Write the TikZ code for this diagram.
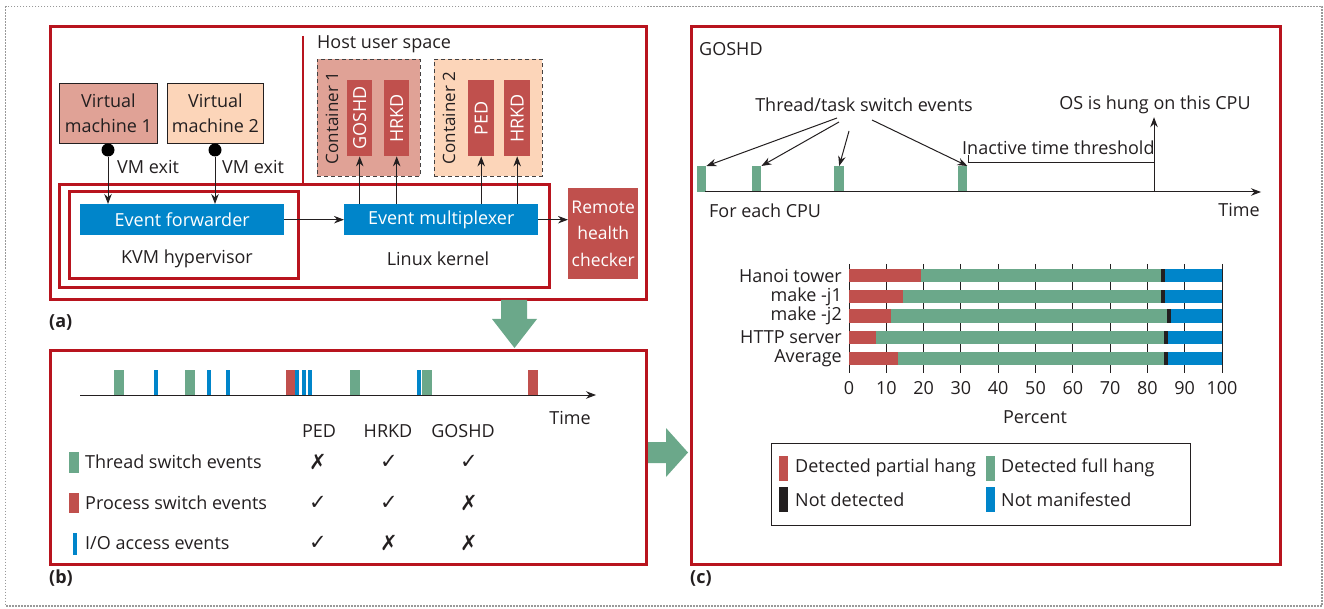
\documentclass[tikz,border=0pt]{standalone}
\usepackage{fontspec}
\setmainfont{Open Sans}
\newfontfamily\symfont{DejaVu Sans}
\usetikzlibrary{arrows.meta}
\definecolor{boxred}{HTML}{B8141E}
\definecolor{evgreen}{HTML}{6BA88A}
\definecolor{evblue}{HTML}{0085CA}
\definecolor{fillred}{HTML}{C0504D}
\definecolor{salmon}{HTML}{E0A296}
\definecolor{peach}{HTML}{FCD5B9}
\definecolor{txtc}{HTML}{231F20}
\begin{document}
\begin{tikzpicture}[x=1pt,y=-1pt,
  every node/.style={text=txtc, inner sep=0pt, font=\fontsize{18}{21}\selectfont},
  redframe/.style={draw=boxred, line width=2.6pt, anchor=north west},
  evbox/.style={fill=evblue, text=white, anchor=north west},
  rbox/.style={fill=fillred, text=white, anchor=north west},
  vmbox/.style={draw=txtc, line width=0.9pt, anchor=north west, align=center, font=\fontsize{18}{25}\selectfont},
  contbox/.style={draw=txtc!85, line width=0.9pt, dash pattern=on 4pt off 3pt, anchor=north west},
  arr/.style={draw=txtc, line width=1pt, -{Stealth[length=10pt,width=7.5pt]}},
  plainline/.style={draw=txtc, line width=1pt},
  chk/.style={font=\symfont\fontsize{21}{22}\selectfont},
  dotnode/.style={circle, fill=black, minimum size=13pt},
  evg/.style={fill=evgreen, anchor=north west},
  lbl/.style={anchor=west},
  plbl/.style={anchor=west, font=\bfseries\fontsize{18}{21}\selectfont}
]
\useasboundingbox (0,0) rectangle (1324,609);
% outer dotted border
\draw[gray!80, line width=1.2pt, dash pattern=on 1.5pt off 1.5pt] (5.5,6.5) rectangle (1322,606);

% ================= Panel (a)
\node[redframe, minimum width=596pt, minimum height=273pt] (pa) at (49,25) {};
\node[redframe, minimum width=490pt, minimum height=103pt] (lk) at (58,183) {};
\node[redframe, minimum width=229pt, minimum height=87pt] (kvm) at (68,190) {};
\coordinate (hv) at (303,36);
\draw[draw=boxred, line width=2.6pt] (hv) -- (hv |- lk.north);
\node[lbl] (hus) at (317,44) {Host user space};

\node[evbox, minimum width=204pt, minimum height=31pt] (ef) at (80,204) {Event forwarder};
\node[evbox, minimum width=194pt, minimum height=31pt] (em) at (344,204) {Event multiplexer};
\node (kvmt) at (187,259) {KVM hypervisor};
\node (lkt) at (438,259) {Linux kernel};
\node[rbox, minimum width=70pt, minimum height=91pt, align=center, font=\fontsize{17.5}{26.5}\selectfont] (rhc) at (568,188) {Remote\\health\\checker};

\node[vmbox, fill=salmon, minimum width=98pt, minimum height=60pt] (vm1) at (59,83) {Virtual\\machine 1};
\node[vmbox, fill=peach, minimum width=96pt, minimum height=60pt] (vm2) at (167,83) {Virtual\\machine 2};
\node[dotnode] (d1) at (108,150) {};
\node[dotnode] (d2) at (215,150) {};
\draw[arr] (d1) -- (d1 |- ef.north);
\draw[arr] (d2) -- (d2 |- ef.north);
\node[lbl] (vx1) at (117,167) {VM exit};
\node[lbl] (vx2) at (222,167) {VM exit};

\node[contbox, fill=salmon, minimum width=103pt, minimum height=117pt] (c1) at (317,59) {};
\node[contbox, fill=peach, minimum width=108pt, minimum height=117pt] (c2) at (434,59) {};
\node[rotate=90, font=\fontsize{17}{20}\selectfont] (c1t) at (332,118) {Container 1};
\node[rotate=90, font=\fontsize{17}{20}\selectfont] (c2t) at (449,118) {Container 2};
\node[rbox, minimum width=25pt, minimum height=76pt] (g1) at (347,80) {};
\node[rbox, minimum width=25pt, minimum height=76pt] (h1) at (384,80) {};
\node[rbox, minimum width=26pt, minimum height=76pt] (p2) at (468,80) {};
\node[rbox, minimum width=26pt, minimum height=76pt] (h2) at (504,80) {};
\node[rotate=90, text=white] (g1t) at (g1.center) {GOSHD};
\node[rotate=90, text=white] (h1t) at (h1.center) {HRKD};
\node[rotate=90, text=white] (p2t) at (p2.center) {PED};
\node[rotate=90, text=white] (h2t) at (h2.center) {HRKD};
\draw[arr] (g1.south |- em.north) -- (g1.south);
\draw[arr] (h1.south |- em.north) -- (h1.south);
\draw[arr] (p2.south |- em.north) -- (p2.south);
\draw[arr] (h2.south |- em.north) -- (h2.south);
\draw[arr] (ef) -- (em);
\draw[arr] (em.east) -- (rhc.west |- em.east);
\node[plbl] (la) at (49,322) {(a)};

% big green arrows
\fill[evgreen] (501,300) -- (527,300) -- (527,319) -- (537,319) -- (514.5,348) -- (492,319) -- (501,319) -- cycle;
\fill[evgreen] (647,442) -- (666,442) -- (666,428) -- (688,452.5) -- (666,477) -- (666,463) -- (647,463) -- cycle;

% ================= Panel (b)
\node[redframe, minimum width=596pt, minimum height=214pt] (pb) at (49,349) {};
\foreach \a/\b/\c in {114/124/evgreen, 154/158/evblue, 185/195/evgreen, 207/211/evblue, 226/230/evblue,
  286/296/fillred, 295/299/evblue, 302/306/evblue, 308/312/evblue, 350/360/evgreen,
  417/421/evblue, 422/432/evgreen, 528/538/fillred}
  \fill[\c] (\a,370) rectangle (\b,395);
\coordinate (bt0) at (80,395);
\coordinate (bt1) at (596,395);
\draw[arr] (bt0) -- (bt1);
\node (btime) at (570,418) {Time};
\node (hped) at (319,431) {PED};
\node (hhrkd) at (388,431) {HRKD};
\node (hgoshd) at (463,431) {GOSHD};
\fill[evgreen] (69,452) rectangle (79,473);
\fill[fillred] (69,493) rectangle (79,513);
\fill[evblue] (73,533) rectangle (77,555);
\node[lbl] (lt) at (85,462) {Thread switch events};
\node[lbl] (lp) at (85,503) {Process switch events};
\node[lbl] (li) at (85,543) {I/O access events};
\node[chk] (m11) at (318,462) {✗};
\node[chk] (m12) at (389,462) {✓};
\node[chk] (m13) at (469,462) {✓};
\node[chk] (m21) at (318,503) {✓};
\node[chk] (m22) at (389,503) {✓};
\node[chk] (m23) at (469,503) {✗};
\node[chk] (m31) at (318,543) {✓};
\node[chk] (m32) at (389,543) {✗};
\node[chk] (m33) at (469,543) {✗};
\node[plbl] (lb) at (49,578) {(b)};

% ================= Panel (c)
\node[redframe, minimum width=589pt, minimum height=538pt] (pc) at (690,25) {};
\node[lbl] (ctitle) at (699,49) {GOSHD};
\node (tse) at (864,105) {Thread/task switch events};
\node (hung) at (1155,105) {OS is hung on this CPU};
\node[evg, minimum width=9pt, minimum height=26pt] (e1) at (697,166) {};
\node[evg, minimum width=9pt, minimum height=26pt] (e2) at (752,166) {};
\node[evg, minimum width=10pt, minimum height=26pt] (e3) at (834,166) {};
\node[evg, minimum width=9pt, minimum height=26pt] (e4) at (958,166) {};
\coordinate (ct0) at (705,192);
\coordinate (ct1) at (1261,192);
\draw[arr] (ct0) -- (ct1);
\coordinate (s1) at (837,118);
\coordinate (s2) at (839,122);
\coordinate (s3) at (849,131);
\coordinate (s4) at (872,120);
\draw[arr] (s1) -- (e1.north east);
\draw[arr] (s2) -- (e2.north east);
\draw[arr] (s3) -- (e3.north);
\draw[arr] (s4) -- (e4.north east);
\coordinate (th0) at (968,155);
\coordinate (th1) at (968,163);
\coordinate (hb) at (1154,192);
\draw[plainline] (th0) -- (th1) -- (th1 -| hb);
\draw[arr] (hb) -- ([yshift=-3pt]hb |- hung.south);
\node[lbl] (itt) at (962,148) {Inactive time threshold};
\node[lbl] (fec) at (709,211) {For each CPU};
\node (ctime) at (1239,210) {Time};

% bar chart
\foreach \v in {0,10,...,100} {
  \draw[draw=txtc, line width=1pt] ({849+3.73*\v},264) -- ({849+3.73*\v},373);
  \node at ({849+3.73*\v},388) {\v};
}
\foreach \y/\r/\g/\k/\nm in {276/19.4/83.6/84.8/Hanoi tower, 296.5/14.5/83.6/84.8/make -j1,
   316/11.3/85.2/86.3/make -j2, 337/7.2/84.5/85.6/HTTP server, 358/13.1/84.5/85.6/Average} {
  \fill[fillred] (849,\y-6.5) rectangle ({849+3.73*\r},\y+6.5);
  \fill[evgreen] ({849+3.73*\r},\y-6.5) rectangle ({849+3.73*\g},\y+6.5);
  \fill[txtc] ({849+3.73*\g},\y-6.5) rectangle ({849+3.73*\k},\y+6.5);
  \fill[evblue] ({849+3.73*\k},\y-6.5) rectangle (1222,\y+6.5);
  \node[anchor=east] at (842,\y) {\nm};
}
\node (pct) at (1035,417) {Percent};

% legend
\node[draw=txtc, line width=1pt, anchor=north west, minimum width=419pt, minimum height=82pt] (leg) at (771,443) {};
\fill[fillred] (779,456) rectangle (788,481);
\fill[evgreen] (986,456) rectangle (995,481);
\fill[txtc] (779,487) rectangle (788,512);
\fill[evblue] (986,487) rectangle (995,512);
\node[lbl] (l1) at (795,468) {Detected partial hang};
\node[lbl] (l2) at (1001,468) {Detected full hang};
\node[lbl] (l3) at (795,500) {Not detected};
\node[lbl] (l4) at (1001,500) {Not manifested};
\node[plbl] (lc) at (690,578) {(c)};
\end{tikzpicture}
\end{document}
